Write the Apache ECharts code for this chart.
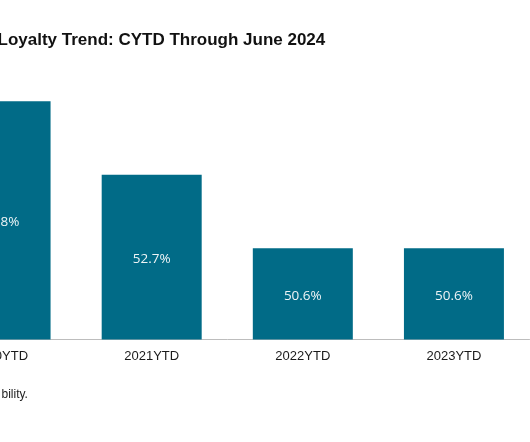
<!DOCTYPE html>
<html><head><meta charset="utf-8">
<script src="https://cdn.jsdelivr.net/npm/echarts@6/dist/echarts.min.js"></script>
<style>html,body{margin:0;padding:0;background:#fff;overflow:hidden;width:530px;height:442px}#c{position:absolute;left:-75.5px;top:0;width:605.5px;height:442px}</style>
</head><body><div id="c"></div>
<script>
const categories = ['2020YTD', '2021YTD', '2022YTD', '2023YTD'];
const values = [54.8, 52.7, 50.6, 50.6];
const titleText = 'Loyalty Trend: CYTD Through June 2024';
const footnoteText = 'bility.';

const shift = 75.5;
const chart = echarts.init(document.getElementById('c'), null, {renderer: 'canvas'});
chart.setOption({
  animation: false,
  backgroundColor: '#ffffff',
  graphic: [
    {type: 'text', left: shift - 3, top: 32, style: {text: titleText, font: 'bold 17px "Liberation Sans", Arial, sans-serif', fill: '#111'}},
    {type: 'text', left: shift + 1, top: 389, style: {text: footnoteText, font: '12px "Liberation Sans", Arial, sans-serif', fill: '#222'}}
  ],
  grid: {left: 0, right: 1.5, top: 59.1, bottom: 102.5, containLabel: false},
  xAxis: {
    type: 'category', data: categories,
    axisLine: {lineStyle: {color: '#bdbdbd', width: 1}},
    axisTick: {show: false},
    axisLabel: {color: '#1a1a1a', fontSize: 13, fontFamily: '"Liberation Sans", Arial, sans-serif', margin: 10}
  },
  yAxis: {type: 'value', min: 48, max: 56, show: false, splitLine: {show: false}},
  series: [{
    type: 'bar', data: values, barWidth: 100,
    itemStyle: {color: '#016b87'},
    label: {show: true, position: 'inside', offset: [0, 2], formatter: p => p.value.toFixed(1) + '%', color: '#eef4f6', fontSize: 13.5, fontFamily: '"Open Sans", sans-serif'}
  }]
});
</script></body></html>
